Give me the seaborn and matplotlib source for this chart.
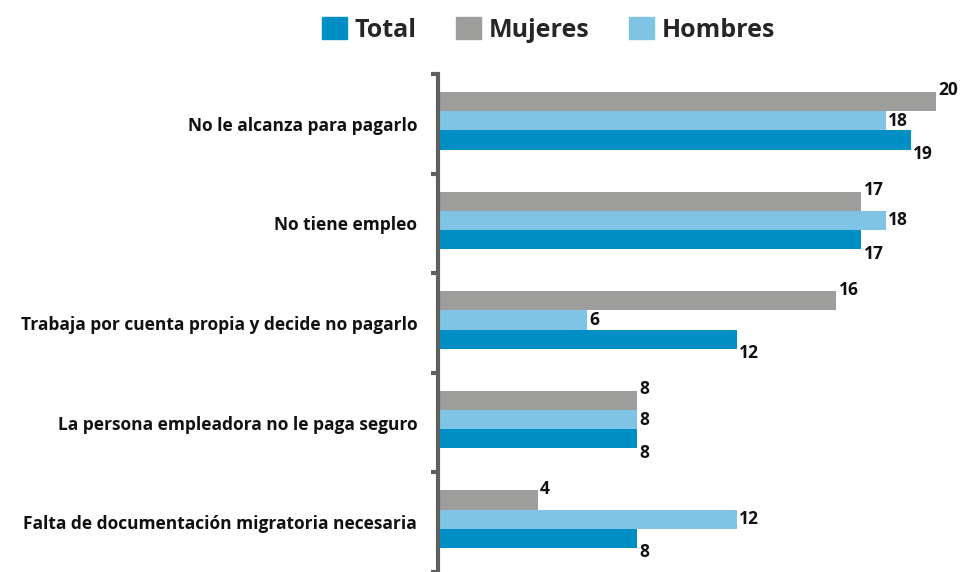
import numpy as np
import pandas as pd
import seaborn as sns
import matplotlib.pyplot as plt
from matplotlib.patches import Patch

categories = [
    "No le alcanza para pagarlo",
    "No tiene empleo",
    "Trabaja por cuenta propia y decide no pagarlo",
    "La persona empleadora no le paga seguro",
    "Falta de documentación migratoria necesaria",
]
mujeres = [20, 17, 16, 8, 4]
hombres = [18, 18, 6, 8, 12]
total = [19, 17, 12, 8, 8]

colors = {"Total": "#008fc5", "Mujeres": "#9d9d9c", "Hombres": "#7fc4e4"}

df = pd.DataFrame({
    "categoria": categories * 3,
    "valor": mujeres + hombres + total,
    "grupo": ["Mujeres"] * 5 + ["Hombres"] * 5 + ["Total"] * 5,
})

sns.set_style("white")
plt.rcParams["font.family"] = ["Open Sans", "DejaVu Sans"]

fig = plt.figure(figsize=(9.62, 5.72), dpi=100)
ax = fig.add_axes([438 / 962, 0.0, 523 / 962, 1 - 74 / 572])

hue_order = ["Mujeres", "Hombres", "Total"]
sns.barplot(data=df, y="categoria", x="valor", hue="grupo", hue_order=hue_order,
            order=categories, palette=colors, orient="h", width=0.58,
            saturation=1, legend=False, linewidth=0, ax=ax)

ax.set_xlim(0, 21)
ax.set_ylim(4.5, -0.5)
ax.set_xlabel("")
ax.set_ylabel("")
ax.set_xticks([])

# bars sit a little above the middle of each band in the original
for container in ax.containers:
    for bar in container:
        bar.set_y(bar.get_y() - 0.03)

# value labels, offset per series
offsets = {"Mujeres": (1.5, 8), "Hombres": (1.5, 0), "Total": (1.5, -10)}
for container, name in zip(ax.containers, hue_order):
    for bar in container:
        w = bar.get_width()
        yc = bar.get_y() + bar.get_height() / 2
        ax.annotate(f"{w:.0f}", (w, yc), xytext=offsets[name], textcoords="offset points",
                    ha="left", va="center", fontsize=12.5, fontweight="bold",
                    color="#111111", annotation_clip=False)

for s in ["top", "right", "bottom"]:
    ax.spines[s].set_visible(False)
ax.spines["left"].set_color("#5f5f5f")
ax.spines["left"].set_linewidth(3)

ax.set_yticks(range(len(categories)))
ax.set_yticklabels(categories, fontsize=12.5, fontweight="bold", color="#111111")
ax.tick_params(axis="y", which="major", length=0, pad=15)
ax.set_yticks(np.arange(-0.5, len(categories)), minor=True)
ax.tick_params(axis="y", which="minor", length=5, width=3, color="#5f5f5f", left=True)

handles = [Patch(color=colors[k]) for k in ["Total", "Mujeres", "Hombres"]]
fig.legend(handles, ["Total", "Mujeres", "Hombres"], loc="upper center",
           bbox_to_anchor=(0.57, 1.01), ncol=3, frameon=False,
           prop={"size": 18, "weight": "bold"}, handlelength=1.0, handleheight=1.0,
           handletextpad=0.3, columnspacing=1.6)

fig.savefig("out.png", dpi=100)
